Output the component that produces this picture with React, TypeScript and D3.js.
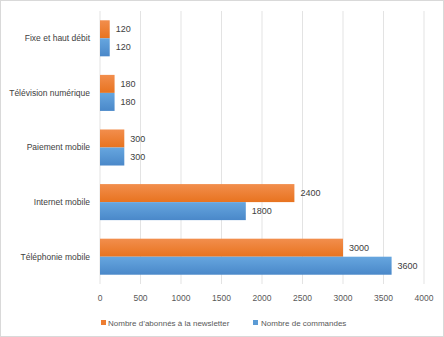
import React from "react";
import * as d3 from "d3";

const categories = ["Fixe et haut débit", "Télévision numérique", "Paiement mobile", "Internet mobile", "Téléphonie mobile"];
const newsletter = [120, 180, 300, 2400, 3000];
const commandes = [120, 180, 300, 1800, 3600];
const xTicks = [0, 500, 1000, 1500, 2000, 2500, 3000, 3500, 4000];
const seriesNames = ["Nombre d’abonnés à la newsletter", "Nombre de commandes"];

const W = 444, H = 337;
const left = 100, right = 424, top = 11, bottom = 284;
const font = "'Liberation Sans', Arial, sans-serif";

export default function App() {
  const x = d3.scaleLinear().domain([0, 4000]).range([left, right]);
  const y = d3.scaleBand<string>().domain(categories).range([top, bottom]).paddingInner(0.34).paddingOuter(0.17);
  const sub = d3.scaleBand<string>().domain(["n", "c"]).range([0, y.bandwidth()]);
  return (
    <svg width={W} height={H} style={{ position: "absolute", left: 0, top: 0 }}>
      <defs>
        <linearGradient id="go" x1="0" y1="0" x2="0" y2="1">
          <stop offset="0" stopColor="#F28E4D" />
          <stop offset="1" stopColor="#E8731F" />
        </linearGradient>
        <linearGradient id="gb" x1="0" y1="0" x2="0" y2="1">
          <stop offset="0" stopColor="#66A6DF" />
          <stop offset="1" stopColor="#4A88C9" />
        </linearGradient>
      </defs>
      <rect x={0.5} y={0.5} width={W - 1} height={H - 1} fill="#fff" stroke="#d9d9d9" />
      {xTicks.map((t) => (
        <line key={t} x1={x(t)} x2={x(t)} y1={top} y2={bottom} stroke="#e3e3e3" strokeWidth={1} />
      ))}
      {categories.map((c, i) => {
        const y0 = y(c)!;
        return (
          <g key={c}>
            <rect x={x(0)} y={y0 + sub("n")!} width={x(newsletter[i]) - x(0)} height={sub.bandwidth()} fill="url(#go)" />
            <rect x={x(0)} y={y0 + sub("c")!} width={x(commandes[i]) - x(0)} height={sub.bandwidth()} fill="url(#gb)" />
            <text x={x(newsletter[i]) + 6} y={y0 + sub("n")! + sub.bandwidth() / 2} dy="0.35em" fontSize={9} fill="#404040" fontFamily={font}>{newsletter[i]}</text>
            <text x={x(commandes[i]) + 6} y={y0 + sub("c")! + sub.bandwidth() / 2} dy="0.35em" fontSize={9} fill="#404040" fontFamily={font}>{commandes[i]}</text>
            <text x={90} y={y0 + y.bandwidth() / 2} dy="0.35em" textAnchor="end" fontSize={8.5} fill="#404040" fontFamily={font}>{c}</text>
          </g>
        );
      })}
      {xTicks.map((t) => (
        <text key={t} x={x(t)} y={298} dy="0.35em" textAnchor="middle" fontSize={8.5} fill="#595959" fontFamily={font}>{t}</text>
      ))}
      <rect x={101} y={320} width={5} height={5} fill="#ED7D31" />
      <text x={108} y={323} dy="0.35em" fontSize={8} fill="#595959" fontFamily={font}>{seriesNames[0]}</text>
      <rect x={253} y={320} width={5} height={5} fill="#5B9BD5" />
      <text x={261} y={323} dy="0.35em" fontSize={8} fill="#595959" fontFamily={font}>{seriesNames[1]}</text>
    </svg>
  );
}
